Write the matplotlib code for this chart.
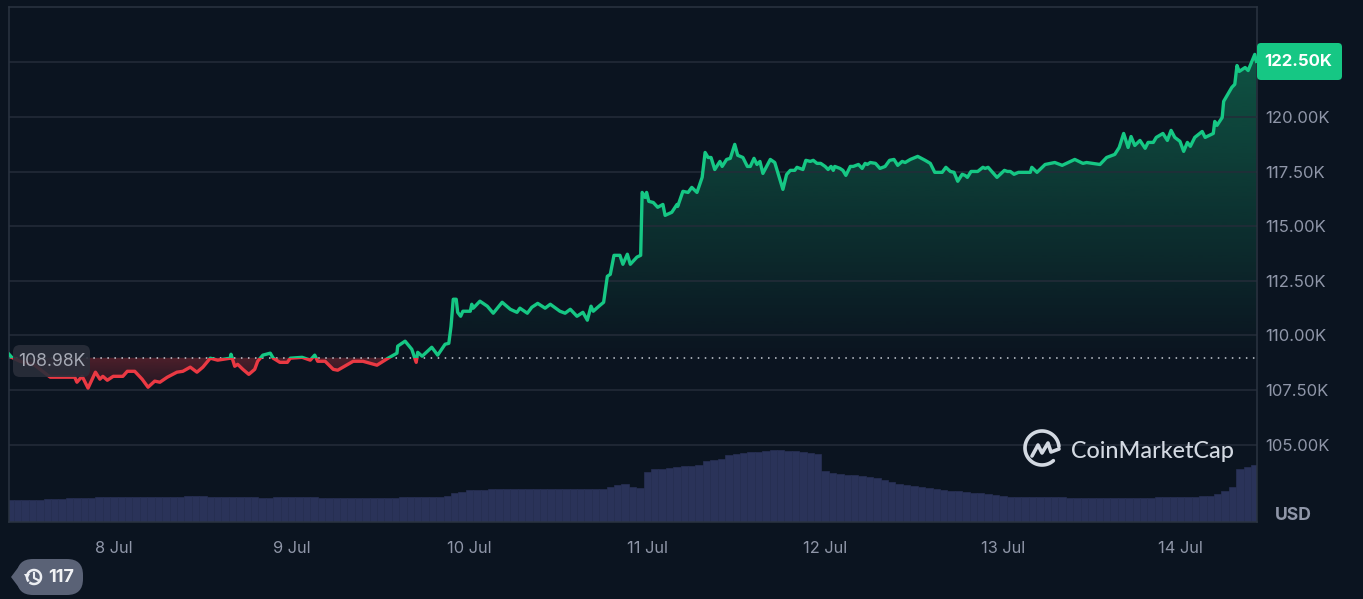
import numpy as np
import matplotlib
matplotlib.use("Agg")
import matplotlib.pyplot as plt
from matplotlib.patches import FancyBboxPatch, Polygon, Rectangle
from matplotlib.path import Path

plt.rcParams["font.family"] = ["Inter", "DejaVu Sans"]

BG = "#0b1420"
GRID = "#242c39"
MUTED = "#8f96a8"
GREEN = "#16c784"
RED = "#ea3943"

# hours since 7 Jul 00:00 and price in thousands USD
hours = [9.83, 10.2, 11.3, 13.3, 15.4, 16.5, 18.7, 19.0, 19.7, 20.5, 21.5, 22.1, 22.5, 23.1, 23.9,
         25.2, 25.8, 26.8, 27.8, 28.6, 29.5, 30.2, 31.2, 32.5, 33.3, 34.3, 35.2, 36.0, 37.0, 38.0,
         39.7, 39.8, 40.1, 40.3, 40.7, 41.4, 42.2, 43.0, 43.4, 44.1, 45.1, 45.5, 46.4, 47.4, 47.8,
         49.4, 50.5, 51.1, 51.5, 52.5, 53.6, 54.2, 55.6, 56.3, 57.6, 59.5, 61.0, 62.2, 62.3, 63.3,
         64.2, 64.8, 65.0, 65.6, 66.9, 67.7, 68.7, 69.2, 69.5, 69.8, 70.2, 70.4, 70.8, 71.1, 72.1,
         72.3, 72.5, 73.4, 74.4, 75.2, 76.4, 77.5, 78.4, 78.8, 79.8, 80.4, 81.2, 82.2, 82.9, 84.2,
         84.9, 85.6, 86.5, 87.3, 87.9, 88.4, 88.7, 89.6, 90.1, 90.6, 91.0, 91.5, 92.3, 92.7, 93.3,
         93.7, 94.6, 95.1, 95.3, 95.7, 95.9, 96.2, 96.8, 97.4, 98.1, 98.4, 99.3, 100.0, 100.1, 100.8,
         101.5, 102.0, 102.7, 103.4, 103.8, 104.2, 104.6, 105.1, 105.8, 106.1, 106.7, 107.2, 107.8, 108.2, 108.9,
         109.5, 109.9, 110.4, 110.8, 111.2, 111.6, 112.6, 113.2, 114.3, 114.8, 115.3, 115.9, 116.2, 117.0, 117.4,
         118.0, 118.4, 118.9, 119.4, 120.0, 120.4, 120.8, 121.1, 121.3, 122.0, 122.4, 122.8, 123.4, 123.8, 124.5,
         125.0, 125.4, 125.7, 126.1, 126.8, 127.4, 128.1, 128.7, 129.3, 129.8, 130.4, 130.8, 131.5, 132.5, 133.5,
         134.2, 134.8, 135.8, 136.3, 136.9, 137.4, 137.9, 138.5, 138.9, 139.2, 139.7, 140.6, 141.3, 141.6, 142.0,
         143.2, 144.2, 144.6, 145.0, 145.5, 146.1,
         147.7, 147.9, 148.6, 149.7, 151.0, 152.0, 153.7, 154.8, 155.3, 157.1, 158.0,
         159.1, 159.7, 160.3, 160.9, 161.3, 161.8, 162.5, 163.2, 163.6, 164.3, 164.7, 165.6, 166.2, 166.7, 167.2,
         167.9, 168.4, 168.9, 169.3, 169.9, 170.9, 171.3, 172.4, 172.6, 172.9, 173.6, 173.8, 174.9, 175.3, 175.6,
         175.9, 176.7, 177.1, 178.0, 178.2]

price = [109.14, 109.00, 108.82, 108.64, 108.09, 108.09, 108.09, 107.86, 108.13, 107.59, 108.32, 108.00, 108.13, 107.95, 108.13,
         108.13, 108.36, 108.36, 108.00, 107.63, 107.91, 107.86, 108.09, 108.32, 108.36, 108.55, 108.32, 108.55, 108.96, 108.87,
         108.96, 109.14, 108.82, 108.59, 108.68, 108.45, 108.22, 108.45, 108.82, 109.10, 109.19, 108.96, 108.77, 108.77, 108.96,
         109.00, 108.87, 109.10, 108.82, 108.82, 108.45, 108.41, 108.68, 108.82, 108.82, 108.64, 108.96, 109.19, 109.51, 109.74,
         109.37, 108.77, 109.23, 109.05, 109.46, 109.10, 109.60, 109.64, 110.42, 111.66, 111.66, 111.06, 110.88, 111.11, 111.11,
         111.43, 111.25, 111.57, 111.34, 111.02, 111.52, 111.20, 111.06, 111.25, 111.02, 111.29, 111.47, 111.25, 111.43, 111.11,
         111.02, 111.20, 110.88, 111.06, 110.70, 111.34, 111.11, 111.38, 111.52, 112.71, 112.80, 113.67, 113.67, 113.26, 113.72,
         113.26, 113.59, 113.67, 116.55, 116.32, 116.55, 116.14, 116.09, 115.87, 116.00, 115.50, 115.64, 116.00, 115.91, 116.60,
         116.55, 116.78, 116.55, 117.24, 118.38, 118.15, 118.15, 117.60, 117.97, 117.74, 118.06, 118.11, 118.75, 118.25, 118.15,
         117.74, 117.74, 118.11, 117.83, 117.97, 117.42, 118.06, 117.92, 116.69, 117.37, 117.56, 117.56, 117.70, 117.60, 118.02,
         117.97, 118.02, 117.88, 117.88, 117.74, 117.60, 117.74, 117.56, 117.74, 117.65, 117.56, 117.33, 117.74, 117.74, 117.83,
         117.65, 117.88, 117.83, 117.92, 117.88, 117.65, 117.74, 118.02, 118.06, 117.79, 117.97, 117.92, 118.06, 118.20, 118.02,
         117.88, 117.47, 117.47, 117.70, 117.51, 117.47, 117.06, 117.38, 117.33, 117.24, 117.51, 117.51, 117.70, 117.65, 117.70,
         117.24, 117.56, 117.51, 117.51, 117.38, 117.47,
         117.47, 117.70, 117.47, 117.83, 117.92, 117.79, 118.06, 117.88, 117.92, 117.83, 118.15,
         118.29, 118.61, 119.25, 118.61, 119.11, 118.70, 118.93, 118.57, 118.84, 118.84, 119.07, 119.25, 118.93, 119.39, 119.07,
         118.89, 118.43, 118.84, 118.66, 119.07, 119.34, 119.07, 119.25, 119.80, 119.62, 119.98, 120.72, 121.36, 121.50, 122.36,
         122.09, 122.27, 122.13, 122.87, 122.55]

# hourly volume, arbitrary units, first bar at hour 10
volume = [22, 22, 22, 22, 22,
          23, 23, 23, 24, 24, 24, 24, 25, 25, 25,
          25, 25, 25, 25, 25, 25, 25, 25, 25, 26, 26, 26,
          25, 25, 25, 25, 25, 25, 25, 24, 24, 25, 25, 25,
          25, 25, 25, 24, 24, 24, 24, 24, 24, 24, 24, 24,
          24, 24, 25, 25, 25, 25, 25, 25, 26,
          29, 30, 32,
          32, 32, 33, 33, 33, 33, 33, 33, 33, 33, 33, 33, 33, 33, 33, 33, 33, 33,
          35, 37, 38, 35, 34,
          50, 53, 53, 54, 55, 56, 56, 57, 61, 62, 63, 67, 68, 69, 70, 70, 71, 72, 72, 71, 71, 70, 69, 68,
          51, 49, 48, 47, 47, 46, 45, 44, 42, 40, 38, 37, 36, 35, 34, 33, 32, 31, 31, 30, 29, 29, 28, 27, 26,
          25, 25, 25, 25, 25, 25, 25, 25, 24, 24, 24, 24, 24, 24, 24, 24, 24, 24, 24, 24, 25, 25, 25, 25, 25, 25,
          26, 26, 28, 31, 35, 53, 55, 57]

start_price = 108.98
last_price = 122.50
day_hours = [24, 48, 72, 96, 120, 144, 168]
day_labels = ["8 Jul", "9 Jul", "10 Jul", "11 Jul", "12 Jul", "13 Jul", "14 Jul"]
price_ticks = [105.0, 107.5, 110.0, 112.5, 115.0, 117.5, 120.0, 122.5]

fig = plt.figure(figsize=(13.63, 5.99), dpi=100, facecolor=BG)
ax = fig.add_axes([9 / 1363, 77 / 599, 1248 / 1363, 515 / 599])
ax.set_xlim(9.83, 178.3)
ax.set_ylim(101.46, 125.04)

# volume sits behind the price axes on its own scale
vol_ax = ax.twinx()
vol_ax.set_ylim(0, 515)
vol_ax.set_zorder(0)
vol_ax.axis("off")
ax.set_zorder(1)
ax.patch.set_visible(False)
vol_x = np.arange(10, 10 + len(volume))
vol_ax.bar(vol_x, volume, width=1.0, color="#2a3359", edgecolor="#272f53", linewidth=0.5)

ax.set_yticks(price_ticks)
ax.set_yticklabels(["" if t == last_price else f"{t:.2f}K" for t in price_ticks])
ax.set_xticks(day_hours)
ax.set_xticklabels(day_labels)
ax.yaxis.tick_right()
ax.grid(axis="y", color=GRID, linewidth=1.1)
ax.tick_params(axis="y", length=0, pad=6, labelsize=12, labelcolor=MUTED)
ax.tick_params(axis="x", length=0, pad=14, labelsize=11.8, labelcolor=MUTED)
for side in ax.spines:
    ax.spines[side].set_color("#2b3441")
    ax.spines[side].set_linewidth(1.1)

x = np.array(hours)
y = np.array(price)


def gradient_fill(mask, rgb, alpha_lo, alpha_hi, y_lo, y_hi):
    # vertical gradient image clipped to the area between the line and the open price
    poly = ax.fill_between(x, y, start_price, where=mask, interpolate=True, color="none")
    path = Path.make_compound_path(*poly.get_paths())
    rgba = np.zeros((256, 1, 4))
    rgba[..., :3] = matplotlib.colors.to_rgb(rgb)
    rgba[:, 0, 3] = np.linspace(alpha_lo, alpha_hi, 256)
    im = ax.imshow(rgba, extent=(x[0], x[-1], y_lo, y_hi), origin="lower",
                   aspect="auto", interpolation="bilinear", zorder=1.5)
    im.set_clip_path(path, ax.transData)


gradient_fill(y >= start_price, GREEN, 0.0, 0.36, start_price, y.max())
gradient_fill(y <= start_price, RED, 0.10, 0.30, y.min(), start_price)
ax.set_xlim(9.83, 178.3)
ax.set_ylim(101.46, 125.04)

# same line twice, each clipped to its side of the open price
up = ax.plot(x, y, color=GREEN, lw=2.4, zorder=3, solid_joinstyle="round")[0]
down = ax.plot(x, y, color=RED, lw=2.4, zorder=3, solid_joinstyle="round")[0]
up.set_clip_path(Rectangle((x[0], start_price), x[-1] - x[0] + 1, 30, transform=ax.transData))
down.set_clip_path(Rectangle((x[0], start_price - 30), x[-1] - x[0] + 1, 30, transform=ax.transData))
ax.axhline(start_price, color="#c9ced6", lw=1.1, ls=(0, (1, 3.6)), zorder=2.5)

# overlay in picture pixels for badges and the watermark
ov = fig.add_axes([0, 0, 1, 1], zorder=5)
ov.set_xlim(0, 1363)
ov.set_ylim(599, 0)
ov.axis("off")


def badge(x0, y0, w, h, color, alpha=1.0, r=6):
    ov.add_patch(FancyBboxPatch((x0 + r, y0 + r), w - 2 * r, h - 2 * r, boxstyle=f"round,pad={r},rounding_size={r}",
                                facecolor=color, edgecolor="none", alpha=alpha))


badge(13, 345, 77, 32, "#2a2e3a", 0.9, r=7)
ov.text(52, 361, f"{start_price:.2f}K", color="#a6aab5", fontsize=12.7, ha="center", va="center")

badge(1257, 43, 85, 37, GREEN, r=4)
ov.text(1298, 62, f"{last_price:.2f}K", color="white", fontsize=12, fontweight="bold", ha="center", va="center")

ov.text(1293, 515, "USD", color=MUTED, fontsize=12.6, fontweight="bold", ha="center", va="center")

# watermark logo
theta = np.radians(np.linspace(48, 355, 120))
ov.plot(1042 + 17 * np.cos(theta), 448 + 17 * np.sin(theta), color="#d3d9e2", lw=2.6, solid_capstyle="round")
ov.plot([1032, 1038, 1042, 1048, 1051, 1059], [456, 445, 453, 443, 452, 449], color="#d3d9e2", lw=2.6,
        solid_joinstyle="round", solid_capstyle="round")
ov.text(1071, 451, "CoinMarketCap", color="#d3d9e2", fontsize=16.8, fontweight="medium",
        family=["Lato", "DejaVu Sans"], ha="left", va="center")

# history pill
badge(17, 559, 66, 36, "#5a6276", r=16)
ov.add_patch(Polygon([[11, 577], [20, 565], [20, 589]], closed=True, facecolor="#5a6276", edgecolor="none"))
theta = np.radians(np.linspace(-210, 120, 60))
ov.plot(34 + 7 * np.cos(theta), 577 + 7 * np.sin(theta), color="#eceef2", lw=1.8)
ov.plot([34, 34, 38], [573, 578, 580], color="#eceef2", lw=1.5)
ov.add_patch(Polygon([[24, 574], [30, 574], [27, 579]], closed=True, facecolor="#eceef2", edgecolor="none"))
ov.text(61.5, 577, "117", color="#f2f3f5", fontsize=13, fontweight="bold", ha="center", va="center")

fig.savefig("out.png", dpi=100, facecolor=BG)
